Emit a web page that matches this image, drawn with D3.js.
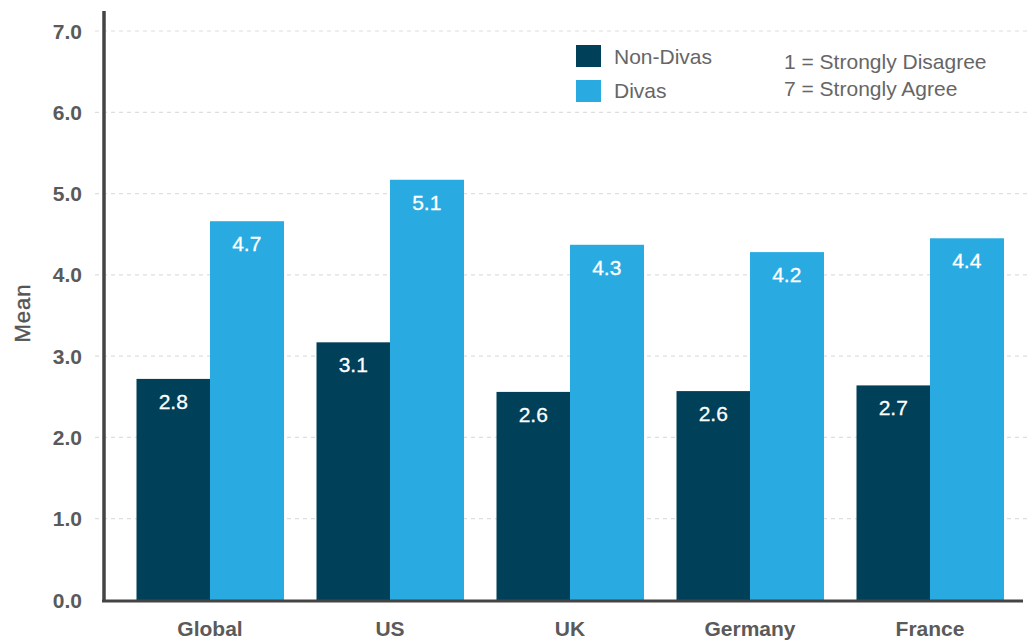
<!DOCTYPE html>
<html><head><meta charset="utf-8">
<script src="https://cdn.jsdelivr.net/npm/d3@7/dist/d3.min.js"></script>
<style>body{margin:0;background:#fff;}svg{display:block;font-family:"Liberation Sans",Arial,sans-serif;}</style>
</head><body>
<svg id="c" width="1027" height="642"></svg>
<script>
const categories = ["Global","US","UK","Germany","France"];
const nonDivas = [2.72, 3.17, 2.56, 2.57, 2.64];
const divas = [4.66, 5.17, 4.37, 4.28, 4.45];
const nonDivasLabels = ["2.8","3.1","2.6","2.6","2.7"];
const divasLabels = ["4.7","5.1","4.3","4.2","4.4"];
const yTicks = [0,1,2,3,4,5,6,7];
const seriesNames = ["Non-Divas","Divas"];
const colors = ["#004059","#29abe2"];
const notes = ["1 = Strongly Disagree","7 = Strongly Agree"];

const svg = d3.select("#c");
const y = d3.scaleLinear().domain([0,7]).range([600,31]);
const x = d3.scaleBand().domain(categories).range([120,1020]).paddingInner(33/180).paddingOuter(16.5/180);
const xs = d3.scaleBand().domain([0,1]).range([0,x.bandwidth()]);

// grid
svg.append("g").selectAll("line").data(yTicks.filter(d=>d>0)).join("line")
  .attr("x1",95).attr("x2",1027).attr("y1",d=>y(d)).attr("y2",d=>y(d))
  .attr("stroke","#dedede").attr("stroke-width",1.2).attr("stroke-dasharray","4,4");

// y tick labels
svg.append("g").selectAll("text").data(yTicks).join("text")
  .attr("x",82).attr("y",d=>y(d)).attr("dy","0.36em").attr("text-anchor","end")
  .attr("font-size",21).attr("fill","#5a5a5a").attr("font-weight","bold")
  .text(d=>d.toFixed(1));

// y label
svg.append("text").attr("transform","translate(30,313) rotate(-90)").attr("text-anchor","middle")
  .attr("font-size",22).attr("letter-spacing",1).attr("fill","#555")
  .attr("stroke","#555").attr("stroke-width",0.4).text("Mean");

const series = [nonDivas, divas];
const labels = [nonDivasLabels, divasLabels];
series.forEach((vals,si)=>{
  const g = svg.append("g");
  g.selectAll("rect").data(vals).join("rect")
    .attr("x",(d,i)=>x(categories[i])+xs(si)).attr("width",xs.bandwidth()+0.5)
    .attr("y",d=>y(d)).attr("height",d=>y(0)-y(d)).attr("fill",colors[si]);
  g.selectAll("text").data(vals).join("text")
    .attr("x",(d,i)=>x(categories[i])+xs(si)+xs.bandwidth()/2).attr("y",d=>y(d)+30)
    .attr("text-anchor","middle").attr("font-size",21).attr("fill","#fff")
    .attr("stroke","#fff").attr("stroke-width",0.3)
    .text((d,i)=>labels[si][i]);
});

// axes lines
svg.append("line").attr("x1",104).attr("x2",104).attr("y1",11).attr("y2",602).attr("stroke","#444").attr("stroke-width",3.5);
svg.append("line").attr("x1",102).attr("x2",1023).attr("y1",601).attr("y2",601).attr("stroke","#444").attr("stroke-width",3);

// category labels
svg.append("g").selectAll("text").data(categories).join("text")
  .attr("x",d=>x(d)+x.bandwidth()/2).attr("y",636).attr("text-anchor","middle")
  .attr("font-size",21).attr("fill","#5a5a5a").attr("font-weight","bold").text(d=>d);

// legend
const lg = svg.append("g");
seriesNames.forEach((n,i)=>{
  lg.append("rect").attr("x",576).attr("y",45+i*35).attr("width",25).attr("height",22).attr("fill",colors[i]);
  lg.append("text").attr("x",614).attr("y",56+i*34).attr("dy","0.36em").attr("font-size",21).attr("fill","#666").text(n);
});
notes.forEach((t,i)=>{
  svg.append("text").attr("x",784).attr("y",61+i*27).attr("dy","0.36em").attr("font-size",21).attr("fill","#666").text(t);
});
</script>
</body></html>
